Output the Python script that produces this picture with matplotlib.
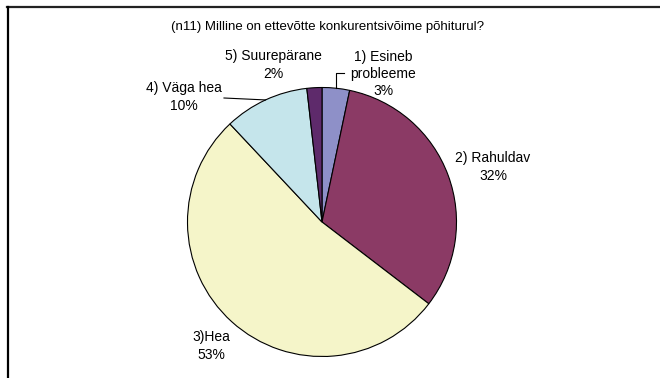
import numpy as np
import matplotlib.pyplot as plt
from matplotlib.lines import Line2D

plt.rcParams['font.family'] = ['Liberation Sans', 'DejaVu Sans']

# === Data ===
labels = ["1) Esineb\nprobleeme", "2) Rahuldav", "3)Hea", "4) Väga hea", "5) Suurepärane"]
shares = [3.3, 32.1, 52.6, 10.2, 1.8]
colors = ["#8E90C8", "#8B3A65", "#F5F5C9", "#C5E5EB", "#5E2A6B"]
title = "(n11) Milline on ettevõtte konkurentsivõime põhiturul?"

W, H = 660, 378
fig = plt.figure(figsize=(6.6, 3.78), dpi=100)
ax = fig.add_axes([0, 0, 1, 1])

# pie centre / radius in pixels (y measured from bottom)
cx, cy, r = 322, H - 222, 134.5

wedges, _ = ax.pie(shares, colors=colors, startangle=90, counterclock=False,
                   center=(cx, cy), radius=r,
                   wedgeprops=dict(edgecolor='black', linewidth=0.8))

ax.set_xlim(0, W)
ax.set_ylim(0, H)
ax.set_aspect('equal')
ax.axis('off')

# === Data labels (positions in px from top) ===
label_pos = [(383, 74), (493, 167), (211, 346), (184, 97), (273, 65)]
for lab, val, (x, y) in zip(labels, shares, label_pos):
    ax.text(x, H - y, f"{lab}\n{val:.0f}%", ha='center', va='center',
            fontsize=10, linespacing=1.3, color='black')


def edge_point(w):
    mid = np.deg2rad((w.theta1 + w.theta2) / 2)
    return cx + r * np.cos(mid), cy + r * np.sin(mid)


# leader line for 1)
ex, ey = edge_point(wedges[0])
ax.plot([ex, ex, 344], [ey, H - 73, H - 73], color='black', lw=0.8)
# leader line for 4)
ex, ey = edge_point(wedges[3])
ax.plot([ex, 224], [ey, H - 98], color='black', lw=0.8)

# === Title ===
ax.text(328, H - 27, title, ha='center', va='center', fontsize=9.5)

# === Frame (top and left only visible) ===
fig.add_artist(Line2D([7 / W, 1], [1 - 6.5 / H, 1 - 6.5 / H], color='#222222', lw=1.6))
fig.add_artist(Line2D([7.5 / W, 7.5 / W], [0, 1 - 6.5 / H], color='black', lw=1.6))

fig.savefig("out.png", dpi=100)
